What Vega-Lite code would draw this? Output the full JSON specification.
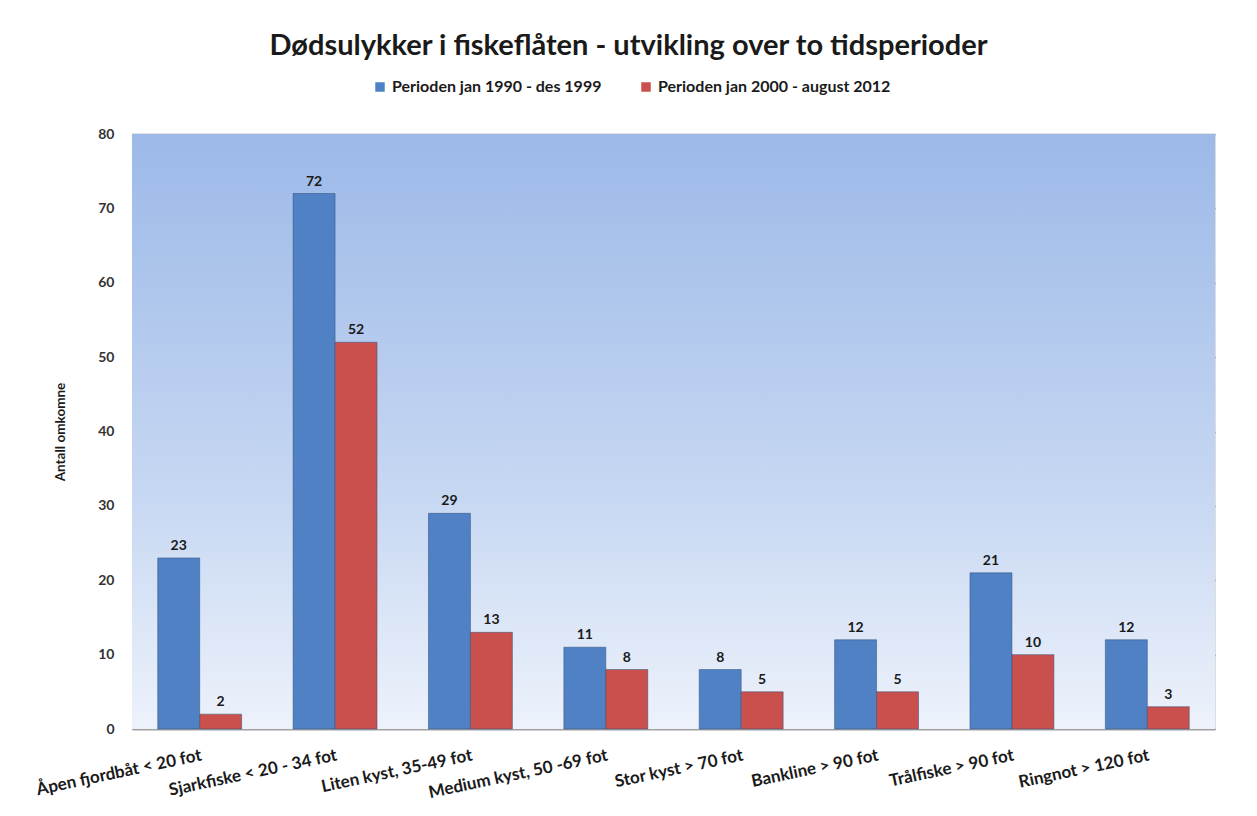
{
  "$schema": "https://vega.github.io/schema/vega-lite/v6.json",
  "autosize": {"type": "none"},
  "width": 1083,
  "height": 595,
  "padding": {"left": 132, "top": 134, "right": 42, "bottom": 87},
  "background": "white",
  "title": {
    "text": "Dødsulykker i fiskeflåten - utvikling over to tidsperioder",
    "font": "Lato",
    "fontSize": 29,
    "fontWeight": "bold",
    "color": "#1a1a1a",
    "anchor": "middle",
    "dx": -45,
    "offset": 18
  },
  "datasets": {
    "bars": [
      {"kategori": "Åpen fjordbåt < 20 fot", "periode": "Perioden jan 1990 - des 1999", "antall": 23},
      {"kategori": "Åpen fjordbåt < 20 fot", "periode": "Perioden jan 2000 - august 2012", "antall": 2},
      {"kategori": "Sjarkfiske < 20 - 34 fot", "periode": "Perioden jan 1990 - des 1999", "antall": 72},
      {"kategori": "Sjarkfiske < 20 - 34 fot", "periode": "Perioden jan 2000 - august 2012", "antall": 52},
      {"kategori": "Liten kyst, 35-49 fot", "periode": "Perioden jan 1990 - des 1999", "antall": 29},
      {"kategori": "Liten kyst, 35-49 fot", "periode": "Perioden jan 2000 - august 2012", "antall": 13},
      {"kategori": "Medium kyst, 50 -69 fot", "periode": "Perioden jan 1990 - des 1999", "antall": 11},
      {"kategori": "Medium kyst, 50 -69 fot", "periode": "Perioden jan 2000 - august 2012", "antall": 8},
      {"kategori": "Stor kyst > 70 fot", "periode": "Perioden jan 1990 - des 1999", "antall": 8},
      {"kategori": "Stor kyst > 70 fot", "periode": "Perioden jan 2000 - august 2012", "antall": 5},
      {"kategori": "Bankline > 90 fot", "periode": "Perioden jan 1990 - des 1999", "antall": 12},
      {"kategori": "Bankline > 90 fot", "periode": "Perioden jan 2000 - august 2012", "antall": 5},
      {"kategori": "Trålfiske > 90 fot", "periode": "Perioden jan 1990 - des 1999", "antall": 21},
      {"kategori": "Trålfiske > 90 fot", "periode": "Perioden jan 2000 - august 2012", "antall": 10},
      {"kategori": "Ringnot > 120 fot", "periode": "Perioden jan 1990 - des 1999", "antall": 12},
      {"kategori": "Ringnot > 120 fot", "periode": "Perioden jan 2000 - august 2012", "antall": 3}
    ]
  },
  "data": {"name": "bars"},
  "encoding": {
    "x": {
      "field": "kategori",
      "type": "nominal",
      "sort": null,
      "scale": {"paddingInner": 0.38, "paddingOuter": 0.19},
      "axis": {
        "title": null,
        "labelAngle": -12,
        "labelAlign": "right",
        "labelBaseline": "top",
        "labelFont": "Lato",
        "labelFontSize": 17,
        "labelFontWeight": "bold",
        "labelColor": "#1a1a1a",
        "labelPadding": 18,
        "labelLimit": 0,
        "ticks": false,
        "domainColor": "#a0a0a0",
        "domainWidth": 1.5
      }
    },
    "y": {
      "field": "antall",
      "type": "quantitative",
      "scale": {"domain": [0, 80]},
      "axis": {
        "title": "Antall omkomne",
        "titleFont": "Lato",
        "titleFontSize": 13.5,
        "titleFontWeight": "bold",
        "titleColor": "#1a1a1a",
        "titlePadding": 30,
        "values": [0, 10, 20, 30, 40, 50, 60, 70, 80],
        "labelFont": "Lato",
        "labelFontSize": 14,
        "labelFontWeight": "bold",
        "labelColor": "#333333",
        "labelPadding": 18,
        "ticks": false,
        "domain": false,
        "gridColor": "#858a94",
        "gridWidth": 1.5
      }
    }
  },
  "layer": [
    {
      "data": {"values": [{"antall": 0, "hi": 80}]},
      "mark": {
        "type": "rect",
        "fill": {
          "gradient": "linear",
          "x1": 0, "y1": 0, "x2": 0, "y2": 1,
          "stops": [
            {"offset": 0, "color": "#9cb9e8"},
            {"offset": 0.6, "color": "#c6d7f2"},
            {"offset": 1, "color": "#edf2fb"}
          ]
        }
      },
      "encoding": {
        "x": null,
        "y2": {"field": "hi"}
      }
    },
    {
      "mark": {"type": "bar", "stroke": "#2f4f7a", "strokeWidth": 0.5},
      "encoding": {
        "xOffset": {"field": "periode", "type": "nominal", "scale": {"paddingInner": 0}},
        "color": {
          "field": "periode",
          "type": "nominal",
          "scale": {"range": ["#4f81c4", "#c9504c"]},
          "legend": {
            "title": null,
            "orient": "none",
            "direction": "horizontal",
            "legendX": 240,
            "legendY": -55,
            "symbolType": "square",
            "symbolSize": 90,
            "symbolStrokeWidth": 0,
            "labelFont": "Lato",
            "labelFontSize": 16,
            "labelFontWeight": "bold",
            "labelColor": "#1a1a1a",
            "labelLimit": 0,
            "columnPadding": 36,
            "labelOffset": 4
          }
        }
      }
    },
    {
      "mark": {"type": "text", "dy": -12, "font": "Lato", "fontSize": 14, "fontWeight": "bold", "color": "#1a1a1a"},
      "encoding": {
        "xOffset": {"field": "periode", "type": "nominal", "scale": {"paddingInner": 0}},
        "text": {"field": "antall", "type": "quantitative"}
      }
    }
  ]
}
